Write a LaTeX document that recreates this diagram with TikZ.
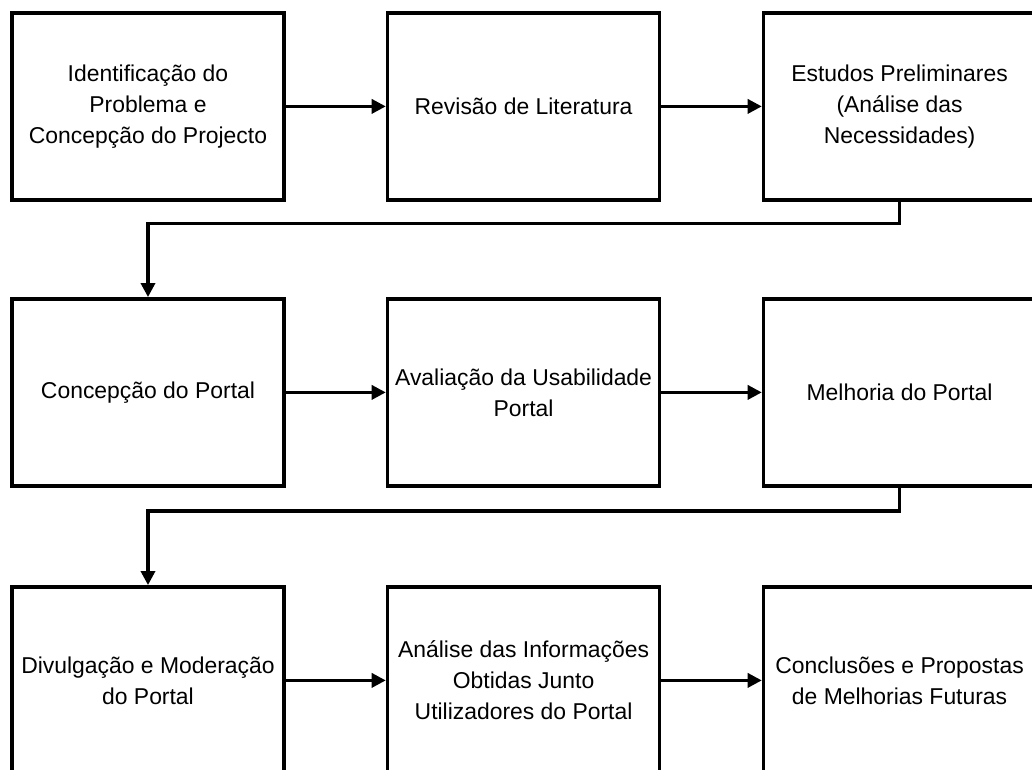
\documentclass[tikz,border=0pt]{standalone}
\usepackage{fontspec}
\setmainfont{Liberation Sans}
\usepackage{tikz}
\usetikzlibrary{arrows.meta}

\begin{document}
\begin{tikzpicture}[
  etapa/.style={draw, line width=2.6pt, minimum width=6.8cm, minimum height=4.675cm,
    align=center, font=\fontsize{16.3}{22}\selectfont, inner sep=2pt},
  seta/.style={-{Triangle[length=10pt,width=10pt]}, line width=2.3pt},
  liga/.style={-{Triangle[length=10pt,width=10pt]}, line width=2.4pt}
]
% Frame of the page (boxes on the right and at the bottom are cut off)
\useasboundingbox (0,0) rectangle (25.8,-19.25);
\clip (0,0) rectangle (25.8,-19.25);
% First row
\node[etapa] (ident) at (3.7,-2.66) {Identificação do\\Problema e\\Concepção do Projecto};
\node[etapa] (revisao) at (13.09,-2.66) {Revisão de Literatura};
\node[etapa] (estudos) at (22.49,-2.66) {Estudos Preliminares\\(Análise das\\Necessidades)};
% Second row
\node[etapa] (concep) at (3.7,-9.81) {Concepção do Portal};
\node[etapa] (aval) at (13.09,-9.81) {Avaliação da Usabilidade\\Portal};
\node[etapa] (melhoria) at (22.49,-9.81) {Melhoria do Portal};
% Third row
\node[etapa] (divulg) at (3.7,-17.01) {Divulgação e Moderação\\do Portal};
\node[etapa] (analise) at (13.09,-17.01) {Análise das Informações\\Obtidas Junto\\Utilizadores do Portal};
\node[etapa] (concl) at (22.49,-17.01) {Conclusões e Propostas\\de Melhorias Futuras};
% Arrows inside each row
\draw[seta] (ident) -- (revisao);
\draw[seta] (revisao) -- (estudos);
\draw[seta] (concep) -- (aval);
\draw[seta] (aval) -- (melhoria);
\draw[seta] (divulg) -- (analise);
\draw[seta] (analise) -- (concl);
% Links from one row to the next
\draw[liga] (estudos.south) -- ++(0,-0.55) -| (concep.north);
\draw[liga] (melhoria.south) -- ++(0,-0.58) -| (divulg.north);
\end{tikzpicture}
\end{document}
